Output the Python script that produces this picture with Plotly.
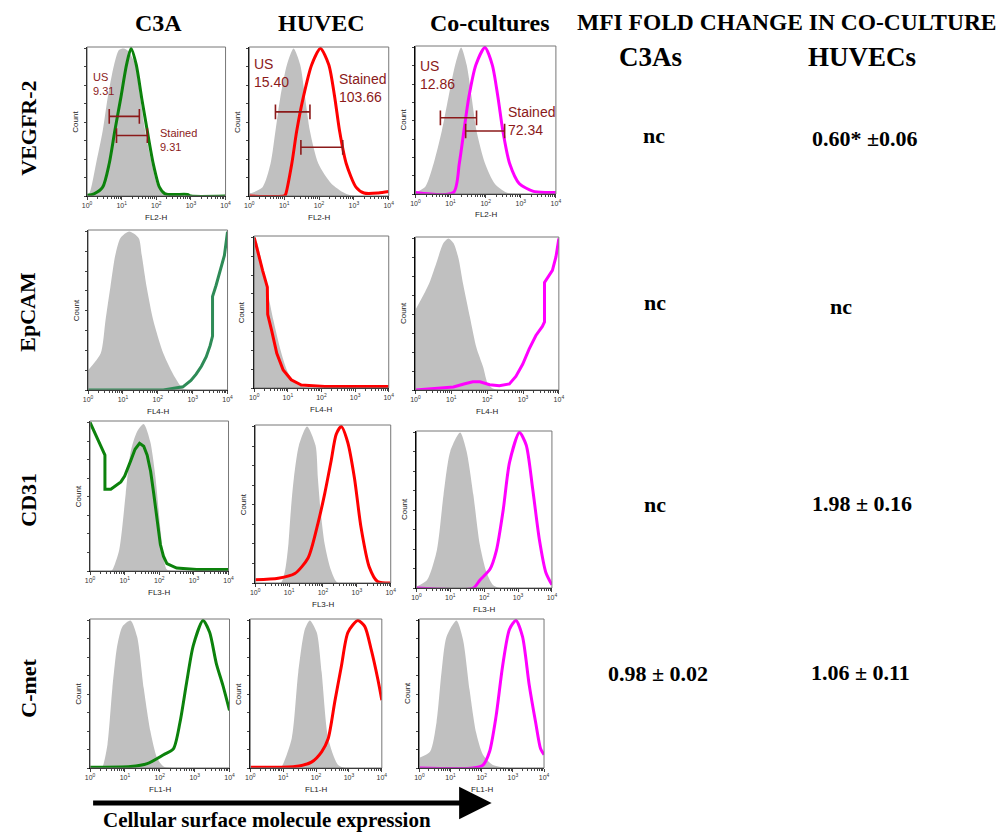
import plotly.graph_objects as go

W, H = 1003, 836

# ---------------- DATA (x in log10 decades, y in % of max count) ----------------
# Row 1: VEGFR-2 (FL2-H)
vegfr_c3a_us_x = [0, 0.07, 0.26, 0.45, 0.59, 0.78, 0.92, 1.06, 1.2, 1.39, 1.54, 1.68, 1.87, 2.06, 2.39, 2.77, 4.0]
vegfr_c3a_us_y = [1, 2, 22, 44, 66, 89, 99, 100, 98, 89, 66, 44, 22, 6, 1.5, 0, 0]
vegfr_c3a_st_x = [0, 0.2, 0.45, 0.64, 0.8, 0.97, 1.14, 1.27, 1.42, 1.58, 1.74, 1.91, 2.09, 2.25, 2.9, 3.0, 4.0]
vegfr_c3a_st_y = [0.5, 1.5, 6, 22, 44, 66, 89, 100, 89, 66, 44, 22, 6, 1.5, 1, 0, 0]

vegfr_huv_us_x = [0, 0.05, 0.38, 0.61, 0.75, 0.89, 1.08, 1.27, 1.46, 1.6, 1.74, 1.98, 2.35, 2.73, 3.0, 4.0]
vegfr_huv_us_y = [2, 2, 6, 22, 44, 67, 89, 100, 89, 67, 44, 22, 8.5, 2, 0, 0]
vegfr_huv_st_x = [0, 1.0, 1.04, 1.22, 1.36, 1.55, 1.79, 2.04, 2.28, 2.45, 2.59, 2.78, 3.06, 3.29, 3.7, 4.0]
vegfr_huv_st_y = [0, 0, 1, 22, 44, 67, 89, 100, 89, 67, 44, 22, 6, 2, 2, 3]

vegfr_co_us_x = [0, 0.05, 0.28, 0.52, 0.75, 0.94, 1.13, 1.3, 1.46, 1.6, 1.74, 1.98, 2.26, 2.59, 2.9, 4.0]
vegfr_co_us_y = [1, 1.5, 5, 21, 43, 66, 88, 100, 88, 66, 43, 21, 7, 1, 0, 0]
vegfr_co_st_x = [0, 1.08, 1.25, 1.38, 1.52, 1.72, 1.98, 2.19, 2.35, 2.49, 2.68, 2.96, 3.34, 3.7, 4.0]
vegfr_co_st_y = [1, 1, 21, 43, 66, 88, 100, 88, 66, 43, 21, 7, 2, 1, 1]

# Row 2: EpCAM (FL4-H)
epcam_c3a_us_x = [0, 0.36, 0.5, 0.64, 0.78, 0.93, 1.18, 1.45, 1.54, 1.68, 1.87, 2.16, 2.49, 2.72, 3.0, 4.0]
epcam_c3a_us_y = [12.5, 23, 44, 65, 85, 96, 100, 96, 85, 65, 44, 23, 8, 1, 0, 0]
epcam_c3a_st_x = [0, 2.16, 2.72, 2.95, 3.1, 3.25, 3.39, 3.5, 3.57, 3.57, 3.67, 3.76, 3.91, 4.0]
epcam_c3a_st_y = [0, 0, 2, 6, 10, 15, 21, 28, 34, 59, 66, 73, 85, 100]

epcam_huv_us_x = [0, 0.08, 0.18, 0.37, 0.57, 0.81, 1.01, 1.3, 1.7, 4.0]
epcam_huv_us_y = [100, 97, 88, 67, 45, 23, 10, 2, 0, 0]
epcam_huv_st_x = [0, 0.13, 0.25, 0.39, 0.4, 0.52, 0.67, 0.86, 1.1, 1.4, 2.1, 4.0]
epcam_huv_st_y = [100, 88, 78, 67, 49, 38, 23, 12, 5.5, 2, 1, 1]

epcam_co_us_x = [0, 0.23, 0.41, 0.6, 0.78, 0.92, 1.06, 1.2, 1.33, 1.52, 1.7, 1.89, 2.02, 2.16, 2.4, 4.0]
epcam_co_us_y = [53, 63, 72, 85, 97, 100, 97, 87, 70, 48, 28, 15, 4, 1, 0, 0]
epcam_co_st_x = [0, 0.6, 1.06, 1.35, 1.6, 1.8, 2.07, 2.34, 2.62, 2.8, 2.99, 3.17, 3.36, 3.54, 3.6, 3.6, 3.82, 3.92, 4.0]
epcam_co_st_y = [0, 1, 2, 4, 5.4, 5.4, 3.5, 2.8, 4, 9, 17, 27, 36, 42, 45, 71, 79, 88, 100]

# Row 3: CD31 (FL3-H)
cd31_c3a_us_x = [0, 0.6, 0.65, 0.84, 1.03, 1.17, 1.36, 1.55, 1.74, 1.89, 2.03, 2.12, 2.22, 2.5, 4.0]
cd31_c3a_us_y = [0, 0, 1, 14, 52, 80, 94, 99, 87, 63, 29, 10, 1, 0, 0]
cd31_c3a_st_x = [0, 0.22, 0.43, 0.43, 0.6, 0.89, 1.0, 1.17, 1.3, 1.43, 1.55, 1.65, 1.75, 1.84, 1.93, 2.03, 2.12, 2.22, 2.5, 3.08, 4.0]
cd31_c3a_st_y = [100, 89, 78, 55, 55, 60, 64, 74, 82, 86, 84, 78, 67, 52, 35, 18, 10, 5, 2, 1, 1]

cd31_huv_us_x = [0, 0.75, 0.88, 0.98, 1.05, 1.14, 1.29, 1.53, 1.78, 1.85, 1.93, 2.05, 2.24, 2.44, 4.0]
cd31_huv_us_y = [0, 0, 8, 25, 46, 67, 88, 100, 88, 67, 46, 25, 8, 0, 0]
cd31_huv_st_x = [0, 0.68, 1.17, 1.56, 1.85, 2.05, 2.24, 2.39, 2.54, 2.73, 2.93, 3.12, 3.37, 3.61, 4.0]
cd31_huv_st_y = [2, 3, 6, 16, 38, 57, 78, 95, 100, 90, 67, 36, 10, 1, 0]

cd31_co_us_x = [0, 0.31, 0.6, 0.8, 1.0, 1.29, 1.48, 1.68, 1.87, 2.07, 2.26, 2.46, 4.0]
cd31_co_us_y = [1, 5, 24, 60, 88, 100, 88, 60, 28, 10, 2, 0, 0]
cd31_co_st_x = [0, 1.68, 1.87, 2.17, 2.36, 2.56, 2.75, 3.04, 3.24, 3.43, 3.63, 3.82, 4.0]
cd31_co_st_y = [0, 0, 5, 12, 24, 50, 81, 100, 92, 64, 31, 10, 2]

# Row 4: C-met (FL1-H)
cmet_c3a_us_x = [0, 0.3, 0.36, 0.5, 0.64, 0.78, 0.93, 1.16, 1.35, 1.54, 1.73, 1.92, 2.11, 2.4, 4.0]
cmet_c3a_us_y = [0, 0, 1, 16, 54, 83, 96, 100, 89, 54, 25, 7, 1, 0, 0]
cmet_c3a_st_x = [0, 1.16, 1.64, 2.11, 2.39, 2.58, 2.77, 2.96, 3.24, 3.43, 3.62, 3.81, 4.0]
cmet_c3a_st_y = [0.5, 1, 3, 9, 13, 31, 58, 83, 100, 92, 71, 56, 39]

cmet_huv_us_x = [0, 0.9, 0.96, 1.26, 1.46, 1.66, 1.81, 2.02, 2.17, 2.37, 2.67, 2.9, 4.0]
cmet_huv_us_y = [0, 0, 1, 20, 65, 94, 100, 92, 65, 20, 2, 0, 0]
cmet_huv_st_x = [0, 1.36, 1.86, 2.17, 2.37, 2.57, 2.77, 2.97, 3.27, 3.48, 3.68, 3.88, 4.0]
cmet_huv_st_y = [0.5, 1, 4, 11, 20, 45, 69, 92, 100, 96, 80, 60, 46]

cmet_co_us_x = [0, 0.34, 0.55, 0.71, 0.87, 1.19, 1.4, 1.61, 1.82, 2.04, 2.36, 2.89, 4.0]
cmet_co_us_y = [7, 11, 31, 65, 89, 100, 87, 53, 24, 9, 2, 0, 0]
cmet_co_st_x = [0, 1.72, 2.04, 2.25, 2.46, 2.67, 2.89, 3.1, 3.31, 3.52, 3.73, 3.89, 4.0]
cmet_co_st_y = [0, 0, 2, 11, 35, 69, 94, 100, 89, 57, 31, 13, 9]

# VEGFR-2 marker gates: [start decade, end decade, level %]
vegfr_us_gates = [[0.64, 1.51, 54], [0.75, 1.74, 57], [0.71, 1.74, 52]]
vegfr_st_gates = [[0.85, 1.74, 41], [1.48, 2.68, 33], [1.43, 2.54, 43]]
vegfr_us_mfi = ["9.31", "15.40", "12.86"]
vegfr_st_mfi = ["9.31", "103.66", "72.34"]

# Labels
column_labels = ["C3A", "HUVEC", "Co-cultures"]
row_labels = ["VEGFR-2", "EpCAM", "CD31", "C-met"]
channel_labels = ["FL2-H", "FL4-H", "FL3-H", "FL1-H"]
tick_values = [1, 10, 100, 1000, 10000]
tick_text = ["10<sup>0</sup>", "10<sup>1</sup>", "10<sup>2</sup>", "10<sup>3</sup>", "10<sup>4</sup>"]
mfi_c3a = ["nc", "nc", "nc", "0.98 ± 0.02"]
mfi_huvec = ["0.60* ±0.06", "nc", "1.98 ± 0.16", "1.06 ± 0.11"]

# ---------------- LAYOUT ----------------
GREEN = "#0C820C"
SEAGREEN = "#2E8B57"
RED = "#FF0000"
MAGENTA = "#FF00FF"
GATE = "#8B1A1A"
SERIF = "Liberation Serif, Times New Roman, serif"
SANS = "Liberation Sans, Arial, sans-serif"

panels = [
    (vegfr_c3a_us_x, vegfr_c3a_us_y, vegfr_c3a_st_x, vegfr_c3a_st_y, GREEN, "spline"),
    (vegfr_huv_us_x, vegfr_huv_us_y, vegfr_huv_st_x, vegfr_huv_st_y, RED, "spline"),
    (vegfr_co_us_x, vegfr_co_us_y, vegfr_co_st_x, vegfr_co_st_y, MAGENTA, "spline"),
    (epcam_c3a_us_x, epcam_c3a_us_y, epcam_c3a_st_x, epcam_c3a_st_y, SEAGREEN, "linear"),
    (epcam_huv_us_x, epcam_huv_us_y, epcam_huv_st_x, epcam_huv_st_y, RED, "linear"),
    (epcam_co_us_x, epcam_co_us_y, epcam_co_st_x, epcam_co_st_y, MAGENTA, "linear"),
    (cd31_c3a_us_x, cd31_c3a_us_y, cd31_c3a_st_x, cd31_c3a_st_y, GREEN, "linear"),
    (cd31_huv_us_x, cd31_huv_us_y, cd31_huv_st_x, cd31_huv_st_y, RED, "spline"),
    (cd31_co_us_x, cd31_co_us_y, cd31_co_st_x, cd31_co_st_y, MAGENTA, "spline"),
    (cmet_c3a_us_x, cmet_c3a_us_y, cmet_c3a_st_x, cmet_c3a_st_y, GREEN, "spline"),
    (cmet_huv_us_x, cmet_huv_us_y, cmet_huv_st_x, cmet_huv_st_y, RED, "spline"),
    (cmet_co_us_x, cmet_co_us_y, cmet_co_st_x, cmet_co_st_y, MAGENTA, "spline"),
]

# panel boxes in pixels: (left, right, top, bottom)
boxes = [
    (83, 223, 47, 196), (247, 388, 47, 196), (415, 557, 46, 194),
    (84, 225, 230, 390), (252, 388, 236, 388), (415, 560, 237, 390),
    (86, 226, 421, 571), (253, 390, 425, 583), (416, 553, 431, 588),
    (86, 227, 619, 768), (248, 381, 619, 768), (419, 545, 619, 768),
]


def px(x):
    return x / W


def py(y):
    return 1 - y / H


fig = go.Figure()
layout = {}
shapes = []
annotations = []

for i, (gx, gy, sx, sy, col, shp) in enumerate(panels):
    k = i + 1
    xa = "x" if k == 1 else f"x{k}"
    ya = "y" if k == 1 else f"y{k}"
    l, r, t, b = boxes[i]
    fig.add_trace(go.Scatter(
        x=[10 ** v for v in gx], y=gy, mode="lines", fill="tozeroy",
        fillcolor="#C0C0C0", line=dict(width=0, color="#C0C0C0", shape="spline", smoothing=0.7),
        xaxis=xa, yaxis=ya, hoverinfo="skip", showlegend=False))
    fig.add_trace(go.Scatter(
        x=[10 ** v for v in sx], y=sy, mode="lines",
        line=dict(width=3, color=col, shape=shp, smoothing=0.7),
        xaxis=xa, yaxis=ya, hoverinfo="skip", showlegend=False))
    layout["xaxis" if k == 1 else f"xaxis{k}"] = dict(
        domain=[px(l), px(r)], anchor=ya, type="log", range=[0, 4],
        tickvals=tick_values, ticktext=tick_text, ticks="outside", ticklen=3,
        tickfont=dict(size=7, family=SANS, color="#333"),
        minor=dict(ticks="outside", ticklen=2, dtick="D1", tickcolor="#444"),
        showline=True, linecolor="black", linewidth=1, showgrid=False, zeroline=False,
        fixedrange=True)
    layout["yaxis" if k == 1 else f"yaxis{k}"] = dict(
        domain=[py(b), py(t)], anchor=xa, range=[0, 101], showticklabels=False,
        ticks="outside", ticklen=2, dtick=12.5, tickcolor="#444",
        showline=True, linecolor="black", linewidth=1, showgrid=False, zeroline=False,
        fixedrange=True)
    # top/right frame
    shapes.append(dict(type="rect", xref=f"{xa} domain", yref=f"{ya} domain",
                       x0=0, x1=1, y0=0, y1=1, line=dict(color="#777", width=1), layer="above"))
    row = i // 3
    annotations.append(dict(text=channel_labels[row], xref="paper", yref="paper",
                            x=px((l + r) / 2), y=py(b + 21), showarrow=False,
                            font=dict(size=8, family=SANS, color="#222"),
                            xanchor="center", yanchor="middle"))
    annotations.append(dict(text="Count", xref="paper", yref="paper", textangle=-90,
                            x=px(l - 12), y=py((t + b) / 2), showarrow=False,
                            font=dict(size=8, family=SANS, color="#222"),
                            xanchor="center", yanchor="middle"))

# VEGFR-2 gates and labels
gate_fonts = [11, 14, 14]
us_label_pos = [(0.12, 86), (0.07, 96), (0.08, 94)]
st_label_pos = [(2.06, 48), (2.53, 86), (2.58, 63)]
for j in range(3):
    xa = "x" if j == 0 else f"x{j + 1}"
    ya = "y" if j == 0 else f"y{j + 1}"
    for g in (vegfr_us_gates[j], vegfr_st_gates[j]):
        a, bb, lvl = 10 ** g[0], 10 ** g[1], g[2]
        fig.add_trace(go.Scatter(
            x=[a, a, None, a, bb, None, bb, bb],
            y=[lvl - 5, lvl + 5, None, lvl, lvl, None, lvl - 5, lvl + 5],
            mode="lines", line=dict(color=GATE, width=1.6),
            xaxis=xa, yaxis=ya, hoverinfo="skip", showlegend=False))
    annotations.append(dict(text=f"US<br>{vegfr_us_mfi[j]}", xref=xa, yref=ya,
                            x=us_label_pos[j][0], y=us_label_pos[j][1], showarrow=False,
                            xanchor="left", yanchor="top", align="left",
                            font=dict(size=gate_fonts[j], family=SANS, color=GATE)))
    annotations.append(dict(text=f"Stained<br>{vegfr_st_mfi[j]}", xref=xa, yref=ya,
                            x=st_label_pos[j][0], y=st_label_pos[j][1], showarrow=False,
                            xanchor="left", yanchor="top", align="left",
                            font=dict(size=gate_fonts[j], family=SANS, color=GATE)))

# Column headers
col_x = [155, 320, 490]
for c, xx in zip(column_labels, col_x):
    annotations.append(dict(text=f"<b>{c}</b>", xref="paper", yref="paper", x=px(xx), y=py(23),
                            showarrow=False, xanchor="center", yanchor="middle",
                            font=dict(size=24, family=SERIF, color="black")))
annotations.append(dict(text="<b>MFI FOLD CHANGE IN CO-CULTURE</b>", xref="paper", yref="paper",
                        x=px(791), y=py(22), showarrow=False, xanchor="center", yanchor="middle",
                        font=dict(size=23.5, family=SERIF, color="black")))
annotations.append(dict(text="<b>C3As</b>", xref="paper", yref="paper", x=px(653), y=py(57),
                        showarrow=False, xanchor="center", yanchor="middle",
                        font=dict(size=27, family=SERIF, color="black")))
annotations.append(dict(text="<b>HUVECs</b>", xref="paper", yref="paper", x=px(867), y=py(57),
                        showarrow=False, xanchor="center", yanchor="middle",
                        font=dict(size=27, family=SERIF, color="black")))

# Row labels
row_y = [128, 312, 500, 688]
for lab, yy in zip(row_labels, row_y):
    annotations.append(dict(text=f"<b>{lab}</b>", xref="paper", yref="paper", x=px(23), y=py(yy),
                            textangle=-90, showarrow=False, xanchor="center", yanchor="middle",
                            font=dict(size=22, family=SERIF, color="black")))

# MFI table
c3a_pos = [(656, 135), (657, 302), (657, 505), (660, 673)]
huv_pos = [(870, 138), (845, 306), (867, 503), (865, 672)]
for txt, (xx, yy) in zip(mfi_c3a, c3a_pos):
    annotations.append(dict(text=f"<b>{txt}</b>", xref="paper", yref="paper", x=px(xx), y=py(yy),
                            showarrow=False, xanchor="center", yanchor="middle",
                            font=dict(size=22, family=SERIF, color="black")))
for txt, (xx, yy) in zip(mfi_huvec, huv_pos):
    annotations.append(dict(text=f"<b>{txt}</b>", xref="paper", yref="paper", x=px(xx), y=py(yy),
                            showarrow=False, xanchor="center", yanchor="middle",
                            font=dict(size=22, family=SERIF, color="black")))

# Arrow and caption
annotations.append(dict(text="", xref="paper", yref="paper", x=px(492), y=py(803),
                        ax=-400, ay=0, showarrow=True, arrowhead=2, arrowsize=1.3,
                        arrowwidth=5, arrowcolor="black"))
annotations.append(dict(text="<b>Cellular surface molecule expression</b>", xref="paper", yref="paper",
                        x=px(265), y=py(820), showarrow=False, xanchor="center", yanchor="middle",
                        font=dict(size=21, family=SERIF, color="black")))

fig.update_layout(
    width=W, height=H, autosize=False,
    margin=dict(l=0, r=0, t=0, b=0),
    paper_bgcolor="white", plot_bgcolor="white",
    showlegend=False, shapes=shapes, annotations=annotations,
    **layout)

fig.write_html("out.html")
